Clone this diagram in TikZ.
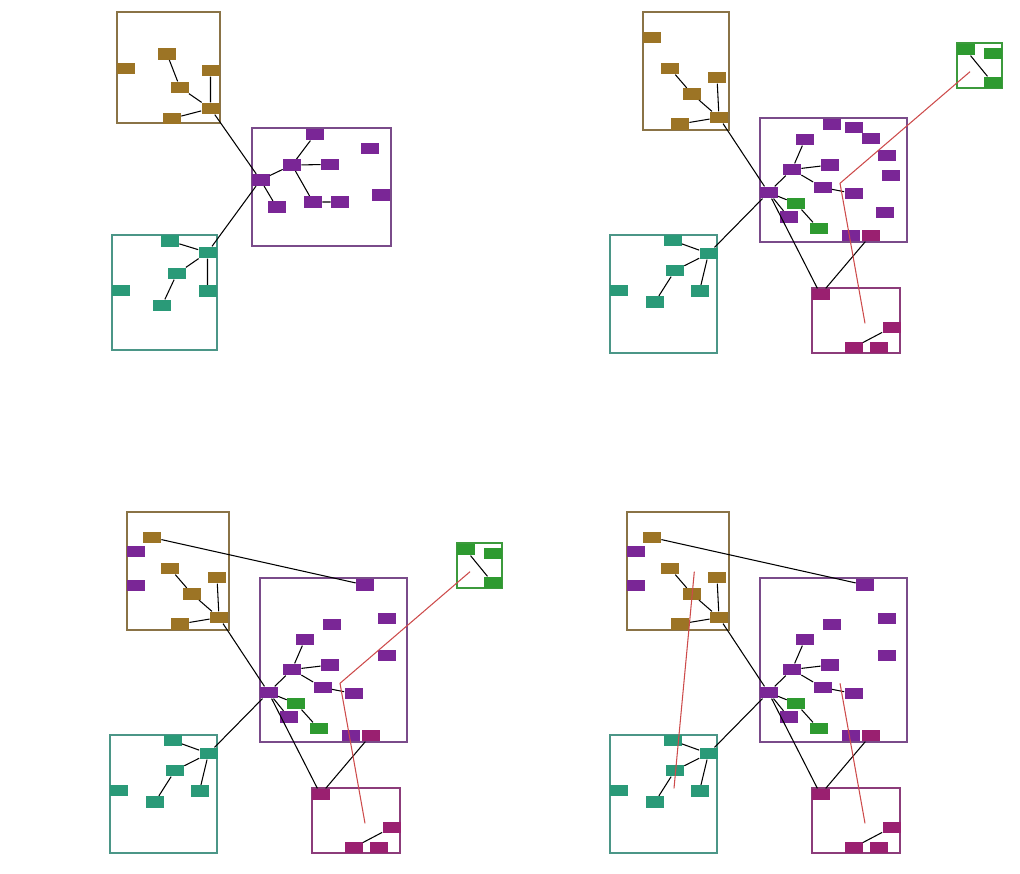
\documentclass[tikz,border=0pt]{standalone}
\usepackage{tikz}

\definecolor{brn}{RGB}{156,116,37}
\definecolor{prp}{RGB}{122,38,150}
\definecolor{tea}{RGB}{42,154,120}
\definecolor{grn}{RGB}{46,154,48}
\definecolor{mag}{RGB}{154,32,112}
\definecolor{brnl}{RGB}{138,115,70}
\definecolor{prpl}{RGB}{122,75,138}
\definecolor{teal}{RGB}{75,150,135}
\definecolor{grnl}{RGB}{60,154,60}
\definecolor{magl}{RGB}{140,60,122}
\definecolor{redl}{RGB}{205,75,75}

\begin{document}
\begin{tikzpicture}[x=0.02cm, y=-0.02cm,
    blk/.style={rectangle, inner sep=0pt, minimum width=0.36cm, minimum height=0.23cm},
    bn/.style={blk, fill=brn}, pn/.style={blk, fill=prp}, tn/.style={blk, fill=tea},
    gn/.style={blk, fill=grn}, mn/.style={blk, fill=mag},
    frame/.style={line width=0.8pt},
    link/.style={black, line width=0.6pt},
    hop/.style={draw=redl, line width=0.6pt}]

    \useasboundingbox (0,0) rectangle (1020,874);

    % top left
    \draw[frame, brnl] (117,12) rectangle (220,123);
    \draw[frame, prpl] (252,128) rectangle (391,246);
    \draw[frame, teal] (112,235) rectangle (217,350);

    \node[bn] (a1) at (167,54) {};
    \node[bn] (a2) at (125.5,68.5) {};
    \node[bn] (a3) at (210.5,70.5) {};
    \node[bn] (a4) at (180,87.5) {};
    \node[bn] (a5) at (210.5,108.5) {};
    \node[bn] (a6) at (172,118.5) {};

    \node[pn] (p1) at (315,134.5) {};
    \node[pn] (p2) at (370,148.5) {};
    \node[pn] (p3) at (292,165) {};
    \node[pn] (p4) at (330,164.5) {};
    \node[pn] (p5) at (260.5,180) {};
    \node[pn] (p6) at (380.5,195) {};
    \node[pn] (p7) at (276.5,207) {};
    \node[pn] (p8) at (313,202) {};
    \node[pn] (p9) at (340,202) {};

    \node[tn] (t1) at (170,241) {};
    \node[tn] (t2) at (207.5,252.5) {};
    \node[tn] (t3) at (177,273.5) {};
    \node[tn] (t4) at (120.5,290.5) {};
    \node[tn] (t5) at (207.5,291) {};
    \node[tn] (t6) at (162,305.5) {};

    \draw[link] (a1) -- (a4) -- (a5) (a3) -- (a5) (a6) -- (a5);
    \draw[link] (p5) -- (p3) -- (p1) (p3) -- (p4) (p3) -- (p8) -- (p9) (p5) -- (p7);
    \draw[link] (t1) -- (t2) -- (t3) -- (t6) (t2) -- (t5);
    \draw[link] (a5) -- (p5) -- (t2);

    % top right
    \draw[frame, brnl] (643,12) rectangle (729,130);
    \draw[frame, prpl] (760,118) rectangle (907,242);
    \draw[frame, teal] (610,235) rectangle (717,353);
    \draw[frame, magl] (812,288) rectangle (900,353);
    \draw[frame, grnl] (957,43) rectangle (1002,88);

    \node[bn] (b1) at (652,37.5) {};
    \node[bn] (b2) at (670,68.5) {};
    \node[bn] (b3) at (717,77.5) {};
    \node[bn] (b4) at (692,94) {};
    \node[bn] (b5) at (719,117.5) {};
    \node[bn] (b6) at (680,124) {};

    \node[pn] (q1) at (832,124.5) {};
    \node[pn] (q2) at (853.5,127.5) {};
    \node[pn] (q3) at (871,138.5) {};
    \node[pn] (q4) at (805,139.5) {};
    \node[pn] (q5) at (887,155.5) {};
    \node[pn] (q6) at (792,169.5) {};
    \node[pn] (q7) at (830,165) {};
    \node[pn] (q8) at (891,175.5) {};
    \node[pn] (q9) at (768.5,192.5) {};
    \node[pn] (q10) at (822.5,187.5) {};
    \node[pn] (q11) at (853.5,193.5) {};
    \node[pn] (q12) at (788.5,217) {};
    \node[pn] (q13) at (885,212.5) {};
    \node[pn] (q14) at (851,235.5) {};
    \node[gn] (g1) at (796,203.5) {};
    \node[gn] (g2) at (818.5,228.5) {};
    \node[mn] (m0) at (870.5,235.5) {};

    \node[mn] (m1) at (820.5,294.5) {};
    \node[mn] (m2) at (891.5,327.5) {};
    \node[mn] (m3) at (853.5,347.5) {};
    \node[mn] (m4) at (878.5,347.5) {};

    \node[gn] (h1) at (965.5,49.5) {};
    \node[gn] (h2) at (992.5,53.5) {};
    \node[gn] (h3) at (992.5,82.5) {};

    \node[tn] (s1) at (672.5,240.5) {};
    \node[tn] (s2) at (708.5,253.5) {};
    \node[tn] (s3) at (675,270.5) {};
    \node[tn] (s4) at (618.5,290.5) {};
    \node[tn] (s5) at (699.5,291) {};
    \node[tn] (s6) at (655,302) {};

    \draw[link] (b2) -- (b4) -- (b5) (b3) -- (b5) (b6) -- (b5);
    \draw[link] (q9) -- (q6) -- (q4) (q6) -- (q7) (q6) -- (q10) -- (q11);
    \draw[link] (q9) -- (g1) -- (g2) (q9) -- (q12) (q9) -- (m1) -- (m0) (m3) -- (m2);
    \draw[link] (h1) -- (h3);
    \draw[link] (s1) -- (s2) -- (s3) -- (s6) (s2) -- (s5);
    \draw[link] (b5) -- (q9) -- (s2);

    \coordinate (r1) at (970,71.7);
    \coordinate (r2) at (840,183.3);
    \coordinate (r3) at (865,323.3);
    \draw[hop] (r1) -- (r2) -- (r3);

    % bottom left
    \begin{scope}[shift={(-500,500)}]
    \draw[frame, brnl] (627,12) rectangle (729,130);
    \draw[frame, prpl] (760,78) rectangle (907,242);
    \draw[frame, teal] (610,235) rectangle (717,353);
    \draw[frame, magl] (812,288) rectangle (900,353);
    \draw[frame, grnl] (957,43) rectangle (1002,88);

    \node[bn] (cb1) at (652,37.5) {};
    \node[bn] (cb2) at (670,68.5) {};
    \node[bn] (cb3) at (717,77.5) {};
    \node[bn] (cb4) at (692,94) {};
    \node[bn] (cb5) at (719,117.5) {};
    \node[bn] (cb6) at (680,124) {};
    \node[pn] (cb7) at (635.5,51.5) {};
    \node[pn] (cb8) at (635.5,85.5) {};

    \node[pn] (cq15) at (865,85) {};
    \node[pn] (cq16) at (887,118.5) {};
    \node[pn] (cq1) at (832,124.5) {};
    \node[pn] (cq4) at (805,139.5) {};
    \node[pn] (cq5) at (887,155.5) {};
    \node[pn] (cq6) at (792,169.5) {};
    \node[pn] (cq7) at (830,165) {};
    \node[pn] (cq9) at (768.5,192.5) {};
    \node[pn] (cq10) at (822.5,187.5) {};
    \node[pn] (cq11) at (853.5,193.5) {};
    \node[pn] (cq12) at (788.5,217) {};
    \node[pn] (cq14) at (851,235.5) {};
    \node[gn] (cg1) at (796,203.5) {};
    \node[gn] (cg2) at (818.5,228.5) {};
    \node[mn] (cm0) at (870.5,235.5) {};

    \node[mn] (cm1) at (820.5,294.5) {};
    \node[mn] (cm2) at (891.5,327.5) {};
    \node[mn] (cm3) at (853.5,347.5) {};
    \node[mn] (cm4) at (878.5,347.5) {};

    \node[gn] (ch1) at (965.5,49.5) {};
    \node[gn] (ch2) at (992.5,53.5) {};
    \node[gn] (ch3) at (992.5,82.5) {};

    \node[tn] (cs1) at (672.5,240.5) {};
    \node[tn] (cs2) at (708.5,253.5) {};
    \node[tn] (cs3) at (675,270.5) {};
    \node[tn] (cs4) at (618.5,290.5) {};
    \node[tn] (cs5) at (699.5,291) {};
    \node[tn] (cs6) at (655,302) {};

    \draw[link] (cb2) -- (cb4) -- (cb5) (cb3) -- (cb5) (cb6) -- (cb5) (cb1) -- (cq15);
    \draw[link] (cq9) -- (cq6) -- (cq4) (cq6) -- (cq7) (cq6) -- (cq10) -- (cq11);
    \draw[link] (cq9) -- (cg1) -- (cg2) (cq9) -- (cq12) (cq9) -- (cm1) -- (cm0) (cm3) -- (cm2);
    \draw[link] (ch1) -- (ch3);
    \draw[link] (cs1) -- (cs2) -- (cs3) -- (cs6) (cs2) -- (cs5);
    \draw[link] (cb5) -- (cq9) -- (cs2);

    \coordinate (cr1) at (970,71.7);
    \coordinate (cr2) at (840,183.3);
    \coordinate (cr3) at (865,323.3);
    \draw[hop] (cr1) -- (cr2) -- (cr3);
    \end{scope}

    % bottom right
    \begin{scope}[shift={(0,500)}]
    \draw[frame, brnl] (627,12) rectangle (729,130);
    \draw[frame, prpl] (760,78) rectangle (907,242);
    \draw[frame, teal] (610,235) rectangle (717,353);
    \draw[frame, magl] (812,288) rectangle (900,353);

    \node[bn] (db1) at (652,37.5) {};
    \node[bn] (db2) at (670,68.5) {};
    \node[bn] (db3) at (717,77.5) {};
    \node[bn] (db4) at (692,94) {};
    \node[bn] (db5) at (719,117.5) {};
    \node[bn] (db6) at (680,124) {};
    \node[pn] (db7) at (635.5,51.5) {};
    \node[pn] (db8) at (635.5,85.5) {};

    \node[pn] (dq15) at (865,85) {};
    \node[pn] (dq16) at (887,118.5) {};
    \node[pn] (dq1) at (832,124.5) {};
    \node[pn] (dq4) at (805,139.5) {};
    \node[pn] (dq5) at (887,155.5) {};
    \node[pn] (dq6) at (792,169.5) {};
    \node[pn] (dq7) at (830,165) {};
    \node[pn] (dq9) at (768.5,192.5) {};
    \node[pn] (dq10) at (822.5,187.5) {};
    \node[pn] (dq11) at (853.5,193.5) {};
    \node[pn] (dq12) at (788.5,217) {};
    \node[pn] (dq14) at (851,235.5) {};
    \node[gn] (dg1) at (796,203.5) {};
    \node[gn] (dg2) at (818.5,228.5) {};
    \node[mn] (dm0) at (870.5,235.5) {};

    \node[mn] (dm1) at (820.5,294.5) {};
    \node[mn] (dm2) at (891.5,327.5) {};
    \node[mn] (dm3) at (853.5,347.5) {};
    \node[mn] (dm4) at (878.5,347.5) {};

    \node[tn] (ds1) at (672.5,240.5) {};
    \node[tn] (ds2) at (708.5,253.5) {};
    \node[tn] (ds3) at (675,270.5) {};
    \node[tn] (ds4) at (618.5,290.5) {};
    \node[tn] (ds5) at (699.5,291) {};
    \node[tn] (ds6) at (655,302) {};

    \draw[link] (db2) -- (db4) -- (db5) (db3) -- (db5) (db6) -- (db5) (db1) -- (dq15);
    \draw[link] (dq9) -- (dq6) -- (dq4) (dq6) -- (dq7) (dq6) -- (dq10) -- (dq11);
    \draw[link] (dq9) -- (dg1) -- (dg2) (dq9) -- (dq12) (dq9) -- (dm1) -- (dm0) (dm3) -- (dm2);
    \draw[link] (ds1) -- (ds2) -- (ds3) -- (ds6) (ds2) -- (ds5);
    \draw[link] (db5) -- (dq9) -- (ds2);

    \coordinate (dr1) at (694.3,71.7);
    \coordinate (dr2) at (674,288.3);
    \coordinate (dr3) at (840,183.3);
    \coordinate (dr4) at (865,323.3);
    \draw[hop] (dr1) -- (dr2) (dr3) -- (dr4);
    \end{scope}

\end{tikzpicture}
\end{document}
